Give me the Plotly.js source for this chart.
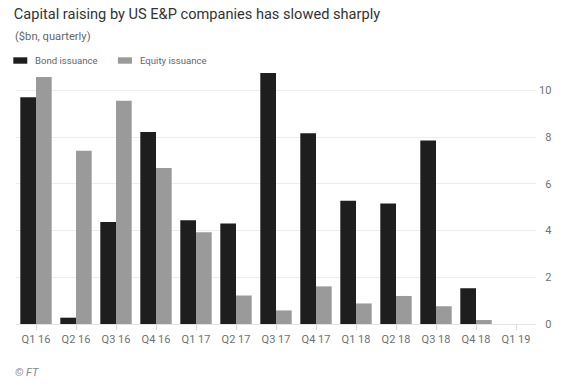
<!DOCTYPE html>
<html>
<head>
<meta charset="utf-8">
<script src="https://cdn.plot.ly/plotly-3.0.1.min.js"></script>
<style>html,body{margin:0;padding:0;background:#fff;}#chart{width:573px;height:386px;}</style>
</head>
<body>
<div id="chart"></div>
<script>
const categories = ["Q1 16","Q2 16","Q3 16","Q4 16","Q1 17","Q2 17","Q3 17","Q4 17","Q1 18","Q2 18","Q3 18","Q4 18","Q1 19"];
const bondIssuance = [9.71, 0.27, 4.37, 8.22, 4.44, 4.30, 10.74, 8.16, 5.27, 5.16, 7.85, 1.53, 0];
const equityIssuance = [10.57, 7.42, 9.56, 6.68, 3.93, 1.22, 0.58, 1.61, 0.88, 1.20, 0.76, 0.17, 0];
const seriesNames = ["Bond issuance", "Equity issuance"];
const seriesColors = ["#1e1e1e", "#9a9a9a"];
const yTickVals = [0, 2, 4, 6, 8, 10];
const yTickText = ["\u20070", "\u20072", "\u20074", "\u20076", "\u20078", "10"];

const font = "Roboto, 'Open Sans', sans-serif";
const traces = [
  {type: "bar", name: seriesNames[0], x: categories, y: bondIssuance, marker: {color: seriesColors[0]}, hoverinfo: "x+y"},
  {type: "bar", name: seriesNames[1], x: categories, y: equityIssuance, marker: {color: seriesColors[1]}, hoverinfo: "x+y"}
];

const layout = {
  width: 573, height: 386,
  paper_bgcolor: "#fff", plot_bgcolor: "#fff",
  margin: {l: 16, r: 37, t: 67, b: 62},
  barmode: "group", bargap: 0.215, bargroupgap: 0,
  showlegend: false,
  font: {family: font, color: "#666"},
  title: {text: "Capital raising by US E&P companies has slowed sharply", x: 0.024, xanchor: "left", y: 0.963, yanchor: "middle", font: {size: 14.6, color: "#333", family: font}},
  xaxis: {
    type: "category", range: [-0.5, 12.5], showgrid: false, zeroline: false,
    showline: true, linecolor: "#e3e3e3", linewidth: 1,
    ticks: "outside", ticklen: 5, tickcolor: "#d8d8d8",
    tickfont: {size: 11, color: "#707070", family: font}
  },
  yaxis: {
    side: "right", range: [0, 11], tickvals: yTickVals, ticktext: yTickText,
    showgrid: true, gridcolor: "#ececec", gridwidth: 1, zeroline: false,
    ticks: "", ticklabelstandoff: 2,
    tickfont: {size: 11, color: "#707070", family: font}
  },
  shapes: [
    {type: "rect", xref: "paper", yref: "paper", x0: -0.0052, x1: 0.0217, y0: 1.0128, y1: 1.0377, fillcolor: seriesColors[0], line: {width: 0}},
    {type: "rect", xref: "paper", yref: "paper", x0: 0.196, x1: 0.223, y0: 1.0128, y1: 1.0377, fillcolor: seriesColors[1], line: {width: 0}}
  ],
  annotations: [
    {text: "($bn, quarterly)", xref: "paper", yref: "paper", x: -0.0052, y: 1.1206, xanchor: "left", yanchor: "middle", showarrow: false, font: {size: 11.2, color: "#666", family: font}},
    {text: seriesNames[0], xref: "paper", yref: "paper", x: 0.0327, y: 1.026, xanchor: "left", yanchor: "middle", showarrow: false, font: {size: 9.6, color: "#666", family: font}},
    {text: seriesNames[1], xref: "paper", yref: "paper", x: 0.2346, y: 1.026, xanchor: "left", yanchor: "middle", showarrow: false, font: {size: 9.6, color: "#666", family: font}},
    {text: "<i>© FT</i>", xref: "paper", yref: "paper", x: -0.0052, y: -0.187, xanchor: "left", yanchor: "middle", showarrow: false, font: {size: 11, color: "#888", family: font}}
  ]
};

Plotly.newPlot("chart", traces, layout, {displayModeBar: false, staticPlot: true});
</script>
</body>
</html>
